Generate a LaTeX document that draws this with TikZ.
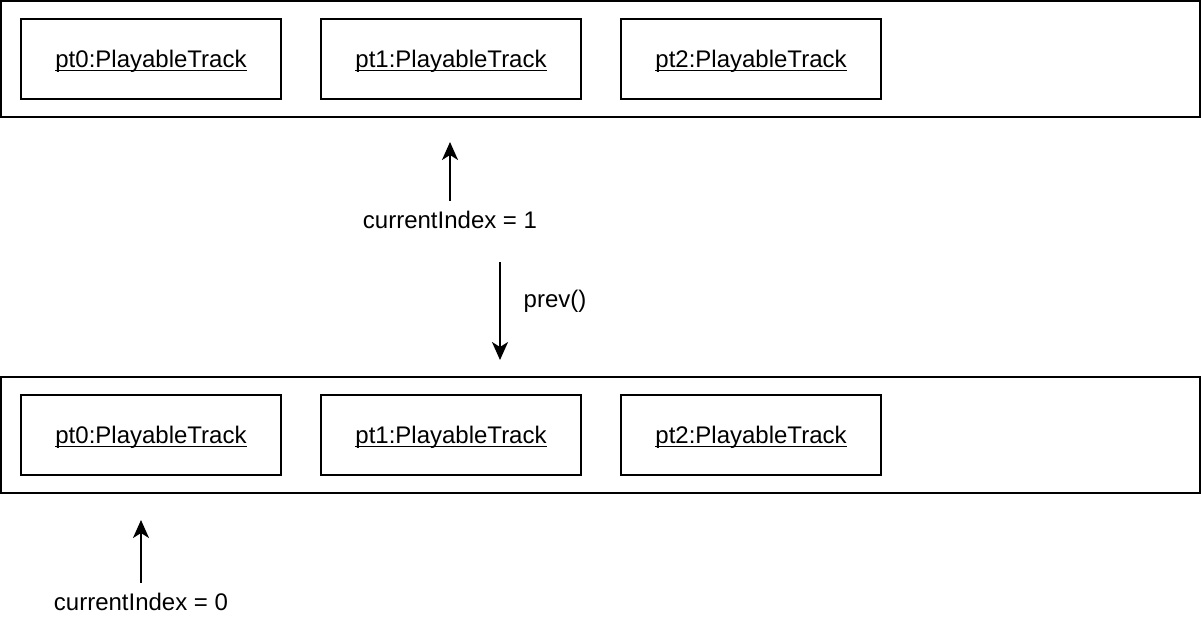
\documentclass[tikz,border=0pt]{standalone}
\usepackage{fontspec}
\setmainfont{Liberation Sans}
\usetikzlibrary{arrows.meta, positioning}
\newcommand{\uname}[1]{\setbox0\hbox{#1}\rlap{\rule[-1.5pt]{\wd0}{0.5pt}}\box0}
\tikzset{
  lane/.style={rectangle,draw,line width=1pt,minimum width=599.5pt,minimum height=58pt,inner sep=0pt},
  track/.style={rectangle,draw,line width=1pt,minimum width=130pt,minimum height=40pt,inner sep=0pt,text depth=0pt,font=\fontsize{12}{14}\selectfont},
  note/.style={font=\fontsize{12}{14}\selectfont,inner sep=5pt},
  line/.style={-{Stealth[length=9pt,width=8pt,inset=2.5pt]},line width=1pt}
}

\begin{document}
\begin{tikzpicture}[x=0.5pt,y=-0.5pt]
\useasboundingbox (0,0) rectangle (1202,622);
\node[lane] (before) at (600.5,59) {};
\node[track] (b0) at (151,59) {\uname{pt0:PlayableTrack}};
\node[track, right=19pt of b0] (b1) {\uname{pt1:PlayableTrack}};
\node[track, right=19pt of b1] (b2) {\uname{pt2:PlayableTrack}};
\node[note] (idx1) at (450,220) {currentIndex = 1};
\coordinate (tip1) at (450,142);
\draw[line] (idx1.north) -- (tip1);

\coordinate (call0) at (500,262);
\coordinate (call1) at (500,360);
\node[note, inner sep=1pt] (call) at (555,301) {prev()};
\draw[line] (call0) -- (call1);

\node[lane] (after) at (600.5,435) {};
\node[track] (c0) at (151,435) {\uname{pt0:PlayableTrack}};
\node[track, right=19pt of c0] (c1) {\uname{pt1:PlayableTrack}};
\node[track, right=19pt of c1] (c2) {\uname{pt2:PlayableTrack}};
\node[note] (idx0) at (141,602) {currentIndex = 0};
\coordinate (tip0) at (141,520);
\draw[line] (idx0.north) -- (tip0);
\end{tikzpicture}
\end{document}
